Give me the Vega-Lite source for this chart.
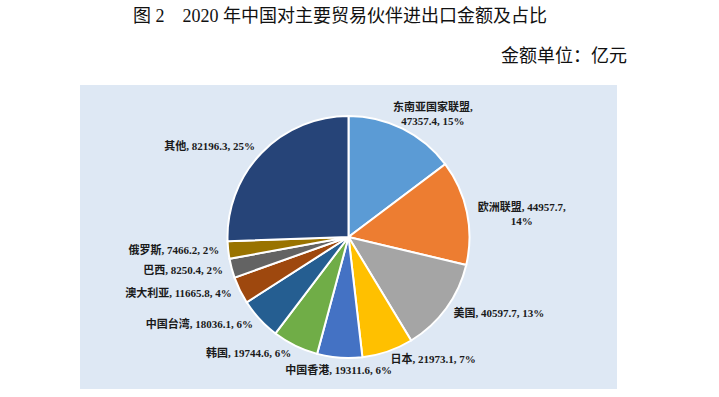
{
  "$schema": "https://vega.github.io/schema/vega-lite/v6.json",
  "background": "white",
  "autosize": "pad",
  "padding": {"left": 80, "right": 0, "top": 7, "bottom": 0},
  "title": {
    "text": "图 2　2020 年中国对主要贸易伙伴进出口金额及占比",
    "anchor": "start",
    "frame": "group",
    "dx": 53,
    "offset": 22,
    "font": "Liberation Serif, Noto Sans CJK SC",
    "fontSize": 18,
    "fontWeight": "normal",
    "color": "#111111"
  },
  "config": {
    "concat": {"spacing": 0},
    "view": {"stroke": null}
  },
  "vconcat": [
    {
      "width": 537,
      "height": 304,
      "title": {
        "text": "金额单位：亿元",
        "anchor": "end",
        "frame": "group",
        "dx": 10,
        "offset": 14,
        "font": "Liberation Serif, Noto Sans CJK SC",
        "fontSize": 18,
        "fontWeight": "normal",
        "color": "#111111"
      },
      "view": {"fill": "#dee8f4", "stroke": null},
      "data": {
        "values": [
          {"order": 1, "name": "东南亚国家联盟", "value": 47357.4, "label": "东南亚国家联盟,\n47357.4, 15%"},
          {"order": 2, "name": "欧洲联盟", "value": 44957.7, "label": "欧洲联盟, 44957.7,\n14%"},
          {"order": 3, "name": "美国", "value": 40597.7, "label": "美国, 40597.7, 13%"},
          {"order": 4, "name": "日本", "value": 21973.1, "label": "日本, 21973.1, 7%"},
          {"order": 5, "name": "中国香港", "value": 19311.6, "label": "中国香港, 19311.6, 6%"},
          {"order": 6, "name": "韩国", "value": 19744.6, "label": "韩国, 19744.6, 6%"},
          {"order": 7, "name": "中国台湾", "value": 18036.1, "label": "中国台湾, 18036.1, 6%"},
          {"order": 8, "name": "澳大利亚", "value": 11665.8, "label": "澳大利亚, 11665.8, 4%"},
          {"order": 9, "name": "巴西", "value": 8250.4, "label": "巴西, 8250.4, 2%"},
          {"order": 10, "name": "俄罗斯", "value": 7466.2, "label": "俄罗斯, 7466.2, 2%"},
          {"order": 11, "name": "其他", "value": 82196.3, "label": "其他, 82196.3, 25%"}
        ]
      },
      "encoding": {
        "theta": {"field": "value", "type": "quantitative", "stack": true},
        "order": {"field": "order", "type": "quantitative"}
      },
      "layer": [
        {
          "mark": {"type": "arc", "outerRadius": 121, "stroke": "white", "strokeWidth": 2},
          "encoding": {
            "color": {
              "field": "name",
              "type": "nominal",
              "legend": null,
              "scale": {
                "domain": ["东南亚国家联盟", "欧洲联盟", "美国", "日本", "中国香港", "韩国", "中国台湾", "澳大利亚", "巴西", "俄罗斯", "其他"],
                "range": ["#5b9bd5", "#ed7d31", "#a5a5a5", "#ffc000", "#4472c4", "#70ad47", "#255e91", "#9e480e", "#636363", "#997300", "#264478"]
              }
            }
          }
        },
        {
          "mark": {"type": "text", "radius": 130, "align": "right", "baseline": "middle", "font": "Liberation Serif, Noto Sans CJK SC", "fontSize": 11, "fontWeight": "bold", "color": "#1a1a1a"},
          "encoding": {
            "text": {"condition": {"test": "indexof(['韩国','中国台湾','澳大利亚','巴西','俄罗斯','其他'], datum.name) >= 0", "field": "label"}, "value": ""}
          }
        },
        {
          "mark": {"type": "text", "radius": 130, "align": "left", "baseline": "middle", "font": "Liberation Serif, Noto Sans CJK SC", "fontSize": 11, "fontWeight": "bold", "color": "#1a1a1a"},
          "encoding": {
            "text": {"condition": {"test": "indexof(['美国','日本'], datum.name) >= 0", "field": "label"}, "value": ""}
          }
        },
        {
          "mark": {"type": "text", "radius": 134, "align": "center", "baseline": "middle", "font": "Liberation Serif, Noto Sans CJK SC", "fontSize": 11, "fontWeight": "bold", "color": "#1a1a1a"},
          "encoding": {
            "text": {"condition": {"test": "datum.name == '中国香港'", "field": "label"}, "value": ""}
          }
        },
        {
          "mark": {"type": "text", "radius": 177, "dy": 7, "align": "center", "baseline": "middle", "lineBreak": "\n", "lineHeight": 14, "font": "Liberation Serif, Noto Sans CJK SC", "fontSize": 11, "fontWeight": "bold", "color": "#1a1a1a"},
          "encoding": {
            "text": {"condition": {"test": "datum.name == '欧洲联盟'", "field": "label"}, "value": ""}
          }
        },
        {
          "mark": {"type": "text", "radius": 144, "dx": 20, "align": "center", "baseline": "middle", "lineBreak": "\n", "lineHeight": 14, "font": "Liberation Serif, Noto Sans CJK SC", "fontSize": 11, "fontWeight": "bold", "color": "#1a1a1a"},
          "encoding": {
            "text": {"condition": {"test": "datum.name == '东南亚国家联盟'", "field": "label"}, "value": ""}
          }
        }
      ]
    }
  ]
}
